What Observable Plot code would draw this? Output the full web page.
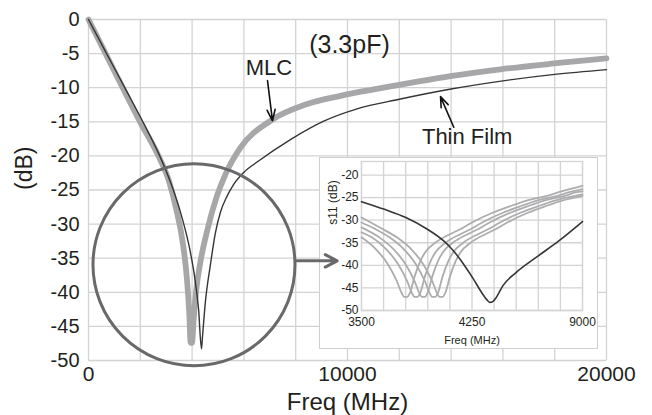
<!DOCTYPE html>
<html><head><meta charset="utf-8">
<script src="https://cdn.jsdelivr.net/npm/d3@7"></script>
<script src="https://cdn.jsdelivr.net/npm/@observablehq/plot@0.6"></script>
<style>
body{margin:0;background:#fff;}
#wrap{position:relative;width:652px;height:415px;font-family:"Liberation Sans",Arial,sans-serif;}
#inset{position:absolute;left:319px;top:157px;border:1.5px solid #cfcfcf;background:#fff;width:277px;height:190px;}
</style></head><body><div id="wrap"><div id="main"></div><div id="inset"></div></div>
<script>
// ---- main chart data ----
const mainFreqTicks = [0, 10000, 20000];
const mainFreqGrid = [0, 2000, 4000, 6000, 8000, 10000, 12000, 14000, 16000, 18000, 20000];
const mainDbTicks = [0, -5, -10, -15, -20, -25, -30, -35, -40, -45, -50];

const thinFilmFreq = [0, 700, 1400, 2100, 2750, 3200, 3600, 3900, 4100, 4250, 4362, 4395, 4516, 4709, 4900, 5100, 5350, 5600, 6000, 6510, 7797, 9083, 10371, 12000, 14000, 16000, 18000, 20000];
const thinFilmDb   = [0, -5, -10, -15, -20, -24.2, -28.9, -33.5, -37.8, -42.5, -48.3, -46.8, -41.3, -35.9, -31.3, -28.2, -25.9, -24.2, -22.4, -20.9, -17.6, -14.9, -13.1, -11.7, -10.2, -9.0, -8.05, -7.35];

const mlcFreq = [0, 660, 1320, 1990, 2700, 3100, 3400, 3650, 3800, 3890, 3945, 3995, 4060, 4150, 4323, 4580, 4966, 5300, 5867, 7025, 8442, 9727, 11013, 12429, 13973, 15903, 17962, 20000];
const mlcDb   = [0, -5, -10, -15, -20, -23.6, -28.0, -33.0, -38.0, -43.0, -47.4, -47.4, -44.0, -40.0, -35.5, -31.0, -25.8, -22.6, -18.8, -14.85, -12.4, -11.2, -10.25, -9.3, -8.3, -7.3, -6.45, -5.7];

const circleCenter = [{f: 4073, db: -35.96}];
const mainArrows = [
  {f1: 6911, db1: -8.97, f2: 7104, db2: -14.85},   // MLC
  {f1: 14104, db1: -15.8, f2: 13591, db2: -11.3}   // Thin Film
];
const mainLabels = [
  {f: 10077, db: -3.8, text: "(3.3pF)", size: 25},
  {f: 6969, db: -7.13, text: "MLC", size: 22},
  {f: 14620, db: -17.28, text: "Thin Film", size: 22}
];

// ---- inset data ----
const insetFreqTicks = [3500, 4250, 5000];
const insetFreqTickLabels = ["3500", "4250", "9000"];
const insetFreqGrid = [3500, 3650, 3800, 3950, 4100, 4250, 4400, 4550, 4700, 4850, 5000];
const insetDbTicks = [-20, -25, -30, -35, -40, -45, -50];

const insetThinFreq = [3500, 3656, 3801, 3947, 4058, 4125, 4192, 4259, 4315, 4350, 4371, 4395, 4415, 4460, 4549, 4683, 4839, 5000];
const insetThinDb   = [-25.9, -27.6, -29.4, -32.0, -34.6, -36.8, -39.7, -43.0, -46.0, -47.6, -48.2, -47.9, -47.1, -44.5, -41.6, -38.3, -34.6, -30.3];

const mlc1Freq = [3500, 3600, 3680, 3740, 3775, 3790, 3810, 3830, 3860, 3900, 3930, 4000, 4100, 4170, 4250, 4393, 4500, 4616, 4760, 4839, 5000];
const mlc1Db   = [-33.8, -36.5, -39.8, -43.5, -46.3, -47, -47, -46, -42.5, -39, -37.2, -35, -33.1, -32.0, -30.5, -28.3, -27, -25.7, -24.6, -23.8, -22.4];
const mlc2Freq = [3500, 3570, 3670, 3750, 3810, 3845, 3860, 3880, 3900, 3930, 3970, 4000, 4070, 4170, 4240, 4320, 4463, 4570, 4686, 4830, 4909, 5000];
const mlc2Db   = [-32.7, -33.8, -36.5, -39.8, -43.5, -46.3, -47, -47, -46, -42.5, -39, -37.2, -35, -33.1, -32, -30.5, -28.3, -27, -25.7, -24.6, -23.8, -23.1];
const mlc3Freq = [3500, 3620, 3720, 3800, 3860, 3895, 3910, 3930, 3950, 3980, 4020, 4050, 4120, 4220, 4290, 4370, 4513, 4620, 4736, 4880, 4959, 5000];
const mlc3Db   = [-31.6, -33.8, -36.5, -39.8, -43.5, -46.3, -47, -47, -46, -42.5, -39, -37.2, -35, -33.1, -32, -30.5, -28.3, -27, -25.7, -24.6, -23.8, -23.6];
const mlc4Freq = [3500, 3590, 3690, 3790, 3870, 3930, 3965, 3980, 4000, 4020, 4050, 4090, 4120, 4190, 4290, 4360, 4440, 4583, 4690, 4806, 4950, 5000];
const mlc4Db   = [-30.5, -31.9, -33.8, -36.5, -39.8, -43.5, -46.3, -47, -47, -46, -42.5, -39, -37.2, -35, -33.1, -32, -30.5, -28.3, -27, -25.7, -24.6, -24.3];
const mlc5Freq = [3500, 3640, 3740, 3840, 3920, 3980, 4015, 4030, 4050, 4070, 4100, 4140, 4170, 4240, 4340, 4410, 4490, 4633, 4740, 4856, 5000];
const mlc5Db   = [-29.4, -31.9, -33.8, -36.5, -39.8, -43.5, -46.3, -47, -47, -46, -42.5, -39, -37.2, -35, -33.1, -32, -30.5, -28.3, -27, -25.7, -24.6];

const insetArrow = [{f1: 3061, db1: -39.0, f2: 3335, db2: -39.0}];

// ---- build rows ----
const rows = (fs, ds, s) => fs.map((f, i) => ({f, db: ds[i], s}));
const thinFilm = rows(thinFilmFreq, thinFilmDb, "Thin Film");
const mlc = rows(mlcFreq, mlcDb, "MLC");
const insetThin = rows(insetThinFreq, insetThinDb, "Thin Film");
const insetMlc = [
  ...rows(mlc1Freq, mlc1Db, "m1"), ...rows(mlc2Freq, mlc2Db, "m2"), ...rows(mlc3Freq, mlc3Db, "m3"),
  ...rows(mlc4Freq, mlc4Db, "m4"), ...rows(mlc5Freq, mlc5Db, "m5")
];

const font = "Liberation Sans, Arial, Helvetica, sans-serif";
const gridColor = "#d3d3d3";
const textColor = "#231f20";
const plain = d => String(d);

const main = Plot.plot({
  width: 652, height: 415,
  marginLeft: 88, marginRight: 46, marginTop: 19, marginBottom: 55,
  style: {fontFamily: font, fontSize: "20px", color: textColor, background: "transparent", overflow: "visible"},
  x: {domain: [0, 20000]},
  y: {domain: [-50, 0]},
  marks: [
    Plot.gridX(mainFreqGrid, {stroke: gridColor, strokeOpacity: 1, strokeWidth: 1.3}),
    Plot.gridY(mainDbTicks, {stroke: gridColor, strokeOpacity: 1, strokeWidth: 1.3}),
    Plot.line(mlc, {x: "f", y: "db", stroke: "#a7a7a9", strokeWidth: 5.8, curve: "monotone-x", strokeLinejoin: "round"}),
    Plot.line(thinFilm, {x: "f", y: "db", stroke: "#353535", strokeWidth: 1.4, curve: "monotone-x"}),
    Plot.dot(circleCenter, {x: "f", y: "db", r: 101, stroke: "#69696b", strokeWidth: 3, fill: "none"}),
    Plot.arrow(mainArrows, {x1: "f1", y1: "db1", x2: "f2", y2: "db2", stroke: "#111", strokeWidth: 1.6, headLength: 11, headAngle: 40}),
    Plot.text(mainLabels, {x: "f", y: "db", text: "text", fontSize: "size", fill: textColor, textAnchor: "middle", lineAnchor: "middle"}),
    Plot.axisX(mainFreqTicks, {tickSize: 0, tickPadding: 6, fontSize: 21, label: null, tickFormat: plain}),
    Plot.axisY(mainDbTicks, {tickSize: 0, tickPadding: 9, fontSize: 20, label: null, tickFormat: plain}),
    Plot.text(["Freq (MHz)"], {text: d => d, frameAnchor: "bottom", dy: 42, fontSize: 24, fill: textColor, lineAnchor: "middle"}),
    Plot.text(["(dB)"], {text: d => d, frameAnchor: "left", dx: -64, rotate: -90, fontSize: 23, fill: textColor, lineAnchor: "middle"})
  ]
});
document.getElementById("main").appendChild(main);

const inset = Plot.plot({
  width: 277, height: 190,
  marginLeft: 41, marginRight: 15, marginTop: 3, marginBottom: 38,
  style: {fontFamily: font, fontSize: "12px", color: textColor, background: "transparent", overflow: "visible"},
  x: {domain: [3500, 5000]},
  y: {domain: [-50, -17]},
  marks: [
    Plot.gridX(insetFreqGrid, {stroke: gridColor, strokeOpacity: 1, strokeWidth: 1.3}),
    Plot.gridY(insetDbTicks, {stroke: gridColor, strokeOpacity: 1, strokeWidth: 1.3}),
    Plot.frame({stroke: gridColor, strokeWidth: 1.3}),
    Plot.line(insetMlc, {x: "f", y: "db", z: "s", stroke: "#adadaf", strokeWidth: 1.8, curve: "monotone-x"}),
    Plot.line(insetThin, {x: "f", y: "db", stroke: "#353535", strokeWidth: 1.6, curve: "monotone-x"}),
    Plot.arrow(insetArrow, {x1: "f1", y1: "db1", x2: "f2", y2: "db2", stroke: "#69696b", strokeWidth: 3, headLength: 9, headAngle: 55}),
    Plot.axisX(insetFreqTicks, {tickSize: 0, tickPadding: 7, fontSize: 12, label: null, tickFormat: d => insetFreqTickLabels[insetFreqTicks.indexOf(d)]}),
    Plot.axisY(insetDbTicks, {tickSize: 0, tickPadding: 3, fontSize: 12, label: null, tickFormat: plain}),
    Plot.text(["Freq (MHz)"], {text: d => d, frameAnchor: "bottom", dy: 30, fontSize: 11, fill: textColor, lineAnchor: "middle"}),
    Plot.text(["s11 (dB)"], {text: d => d, frameAnchor: "left", y: () => -31, dx: -28, rotate: -90, fontSize: 12, fill: textColor, lineAnchor: "middle"})
  ]
});
document.getElementById("inset").appendChild(inset);
</script>
</body></html>
